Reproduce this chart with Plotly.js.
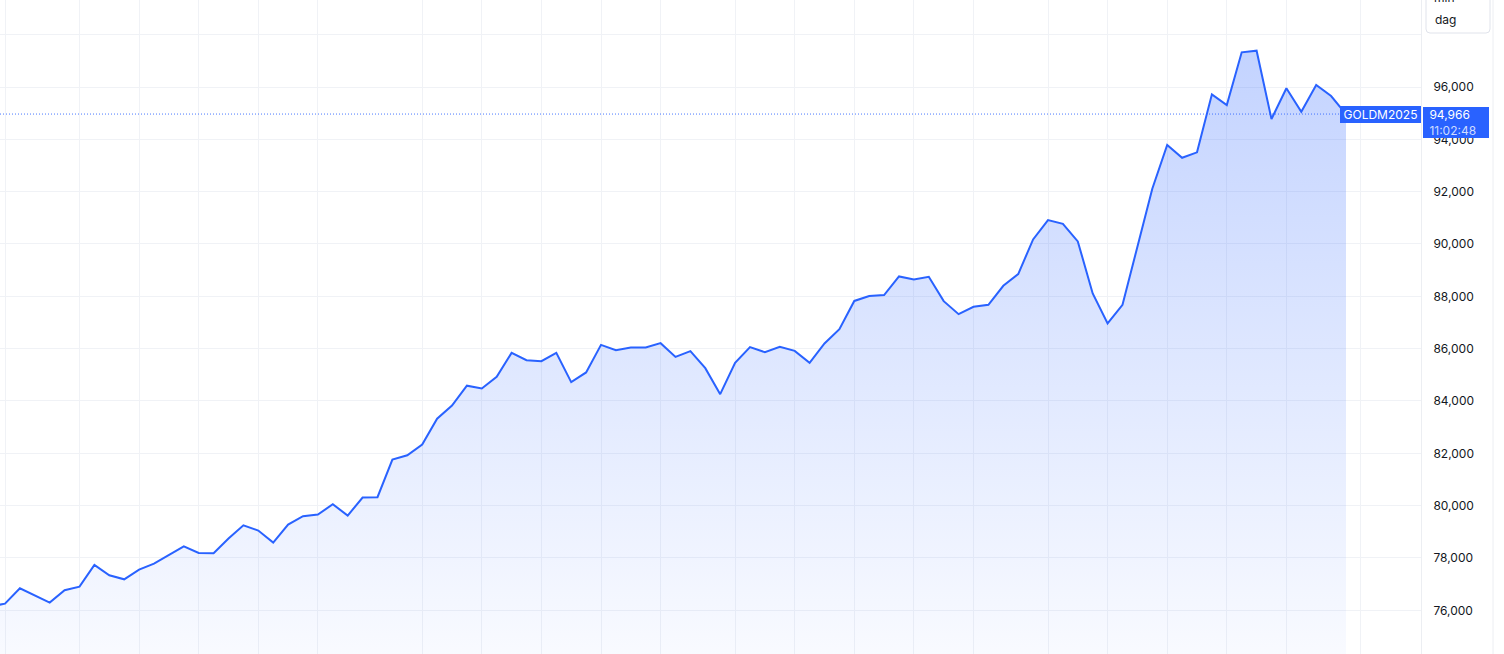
<!DOCTYPE html>
<html>
<head>
<meta charset="utf-8">
<script src="https://cdn.plot.ly/plotly-3.0.1.min.js"></script>
<style>
  html, body { margin: 0; padding: 0; background: #ffffff; }
  #chart { width: 1504px; height: 654px; }
</style>
</head>
<body>
<div id="chart"></div>
<script>
// ---- data (daily closes; first value is the day just left of the view) ----
const symbol = "GOLDM2025";
const lastPrice = 94966;
const lastTime = "11:02:48";
const intervalLabel = "dag";
const intervalAbove = "min";
const closes = [
  76141, 76256, 76841, 76566, 76294, 76765, 76906, 77732, 77338, 77185,
  77556, 77786, 78130, 78447, 78191, 78180, 78742, 79250, 79048, 78589,
  79277, 79595, 79660, 80053, 79621, 80310, 80321, 81763, 81927, 82336,
  83323, 83828, 84585, 84478, 84921, 85839, 85560, 85522, 85839, 84719,
  85090, 86145, 85942, 86046, 86046, 86210, 85686, 85904, 85254, 84260,
  85457, 86057, 85866, 86069, 85916, 85457, 86199, 86745, 87824, 88015,
  88046, 88761, 88646, 88745, 87816, 87319, 87598, 87675, 88401, 88849,
  90175, 90914, 90772, 90099, 88111, 86963, 87675, 89854, 92111, 93782,
  93296, 93503, 95720, 95311, 97326, 97388, 94776, 95950, 95055, 96076,
  95656, 94966
];
// bar index of each vertical grid line (time-scale ticks)
const gridBars = [0, 5, 9, 13, 17, 21, 28, 32, 36, 40, 44, 49, 53, 57, 61, 65, 70, 74, 78, 82, 86, 91];
// price tick values and labels
const priceTicks = [74000, 76000, 78000, 80000, 82000, 84000, 86000, 88000, 90000, 92000, 94000, 96000, 98000];
const priceLabels = ["", "76,000", "78,000", "80,000", "82,000", "84,000", "86,000", "88,000", "90,000", "92,000", "94,000", "96,000", ""];

// ---- chart ----
const bars = closes.map((_, i) => i - 1);
const yMin = 74330, yMax = 99325;
const maxClose = Math.max.apply(null, closes);
const W = 1504, H = 654, R = 83;
const plotW = W - R;
const px = p => p / plotW;          // pixel x -> paper x
const py = p => 1 - p / H;          // pixel y -> paper y

const BLUE = "#2962ff";
const GRID = "#f0f2f6";
const FONT = "Inter, Roboto, 'Liberation Sans', sans-serif";

const trace = {
  type: "scatter",
  mode: "lines",
  x: bars,
  y: closes,
  line: { color: BLUE, width: 2 },
  fill: "tozeroy",
  fillgradient: {
    type: "vertical",
    start: yMin,
    stop: maxClose,
    colorscale: [[0, "rgba(41,98,255,0.03)"], [1, "rgba(41,98,255,0.28)"]]
  },
  hoverinfo: "skip",
  showlegend: false
};

// rounded box of the interval menu (top right)
const bx0 = px(1426), bx1 = px(1490), by = py(33), rx = px(4), ry = 4 / H;
const boxPath = `M ${bx0},${py(-10)} L ${bx0},${by + ry} Q ${bx0},${by} ${bx0 + rx},${by} ` +
                `L ${bx1 - rx},${by} Q ${bx1},${by} ${bx1},${by + ry} L ${bx1},${py(-10)} Z`;

const layout = {
  width: W, height: H,
  margin: { l: 0, r: R, t: 0, b: 0, pad: 0 },
  paper_bgcolor: "#ffffff",
  plot_bgcolor: "#ffffff",
  font: { family: FONT, color: "#131722", size: 12 },
  showlegend: false,
  xaxis: {
    range: [-5 / 14.9, (plotW - 5) / 14.9],
    tickvals: gridBars,
    showticklabels: false,
    showgrid: true, gridcolor: GRID, gridwidth: 1,
    zeroline: false, showline: false, ticks: "", fixedrange: true
  },
  yaxis: {
    side: "right",
    range: [yMin, yMax],
    tickvals: priceTicks,
    ticktext: priceLabels,
    showgrid: true, gridcolor: GRID, gridwidth: 1,
    zeroline: false,
    showline: true, linecolor: "#eceef2", linewidth: 1,
    ticks: "", ticklabelstandoff: 9,
    tickfont: { family: FONT, size: 12, color: "#131722" },
    fixedrange: true
  },
  shapes: [
    // last price dotted line
    { type: "line", xref: "paper", yref: "y", x0: 0, x1: px(1339), y0: lastPrice, y1: lastPrice,
      line: { color: "rgba(41,98,255,0.85)", width: 1, dash: "1px,2px" }, layer: "above" },
    // right border of the widget
    { type: "line", xref: "paper", yref: "paper", x0: px(1493), x1: px(1493), y0: 0, y1: 1,
      line: { color: "#eceef2", width: 1 }, layer: "above" },
    // interval menu box
    { type: "path", xref: "paper", yref: "paper", path: boxPath,
      fillcolor: "#ffffff", line: { color: "#e0e3eb", width: 1 }, layer: "above" }
  ],
  annotations: [
    { xref: "paper", yref: "y", x: 1, y: lastPrice, xanchor: "right", yanchor: "middle",
      text: symbol, showarrow: false, bgcolor: BLUE, borderpad: 2, borderwidth: 0,
      width: 77, height: 13, align: "center",
      font: { family: FONT, size: 12, color: "#ffffff" } },
    { xref: "paper", yref: "y", x: px(1423), y: lastPrice, xanchor: "left", yanchor: "top", yshift: 7.5,
      text: "&nbsp;" + lastPrice.toLocaleString("en-US") + "<br>&nbsp;<span style='color:rgba(255,255,255,0.78)'>" + lastTime + "</span>",
      showarrow: false, bgcolor: BLUE, borderpad: 3, borderwidth: 0,
      width: 60, height: 25, align: "left",
      font: { family: FONT, size: 12, color: "#ffffff" } },
    { xref: "paper", yref: "paper", x: px(1433), y: py(20), xanchor: "left", yanchor: "middle",
      text: intervalLabel, showarrow: false,
      font: { family: FONT, size: 12, color: "#131722" } },
    { xref: "paper", yref: "paper", x: px(1432), y: py(-2.5), xanchor: "left", yanchor: "middle",
      text: intervalAbove, showarrow: false,
      font: { family: FONT, size: 12, color: "#131722" } }
  ]
};

Plotly.newPlot("chart", [trace], layout, { staticPlot: true, displayModeBar: false });
</script>
</body>
</html>
